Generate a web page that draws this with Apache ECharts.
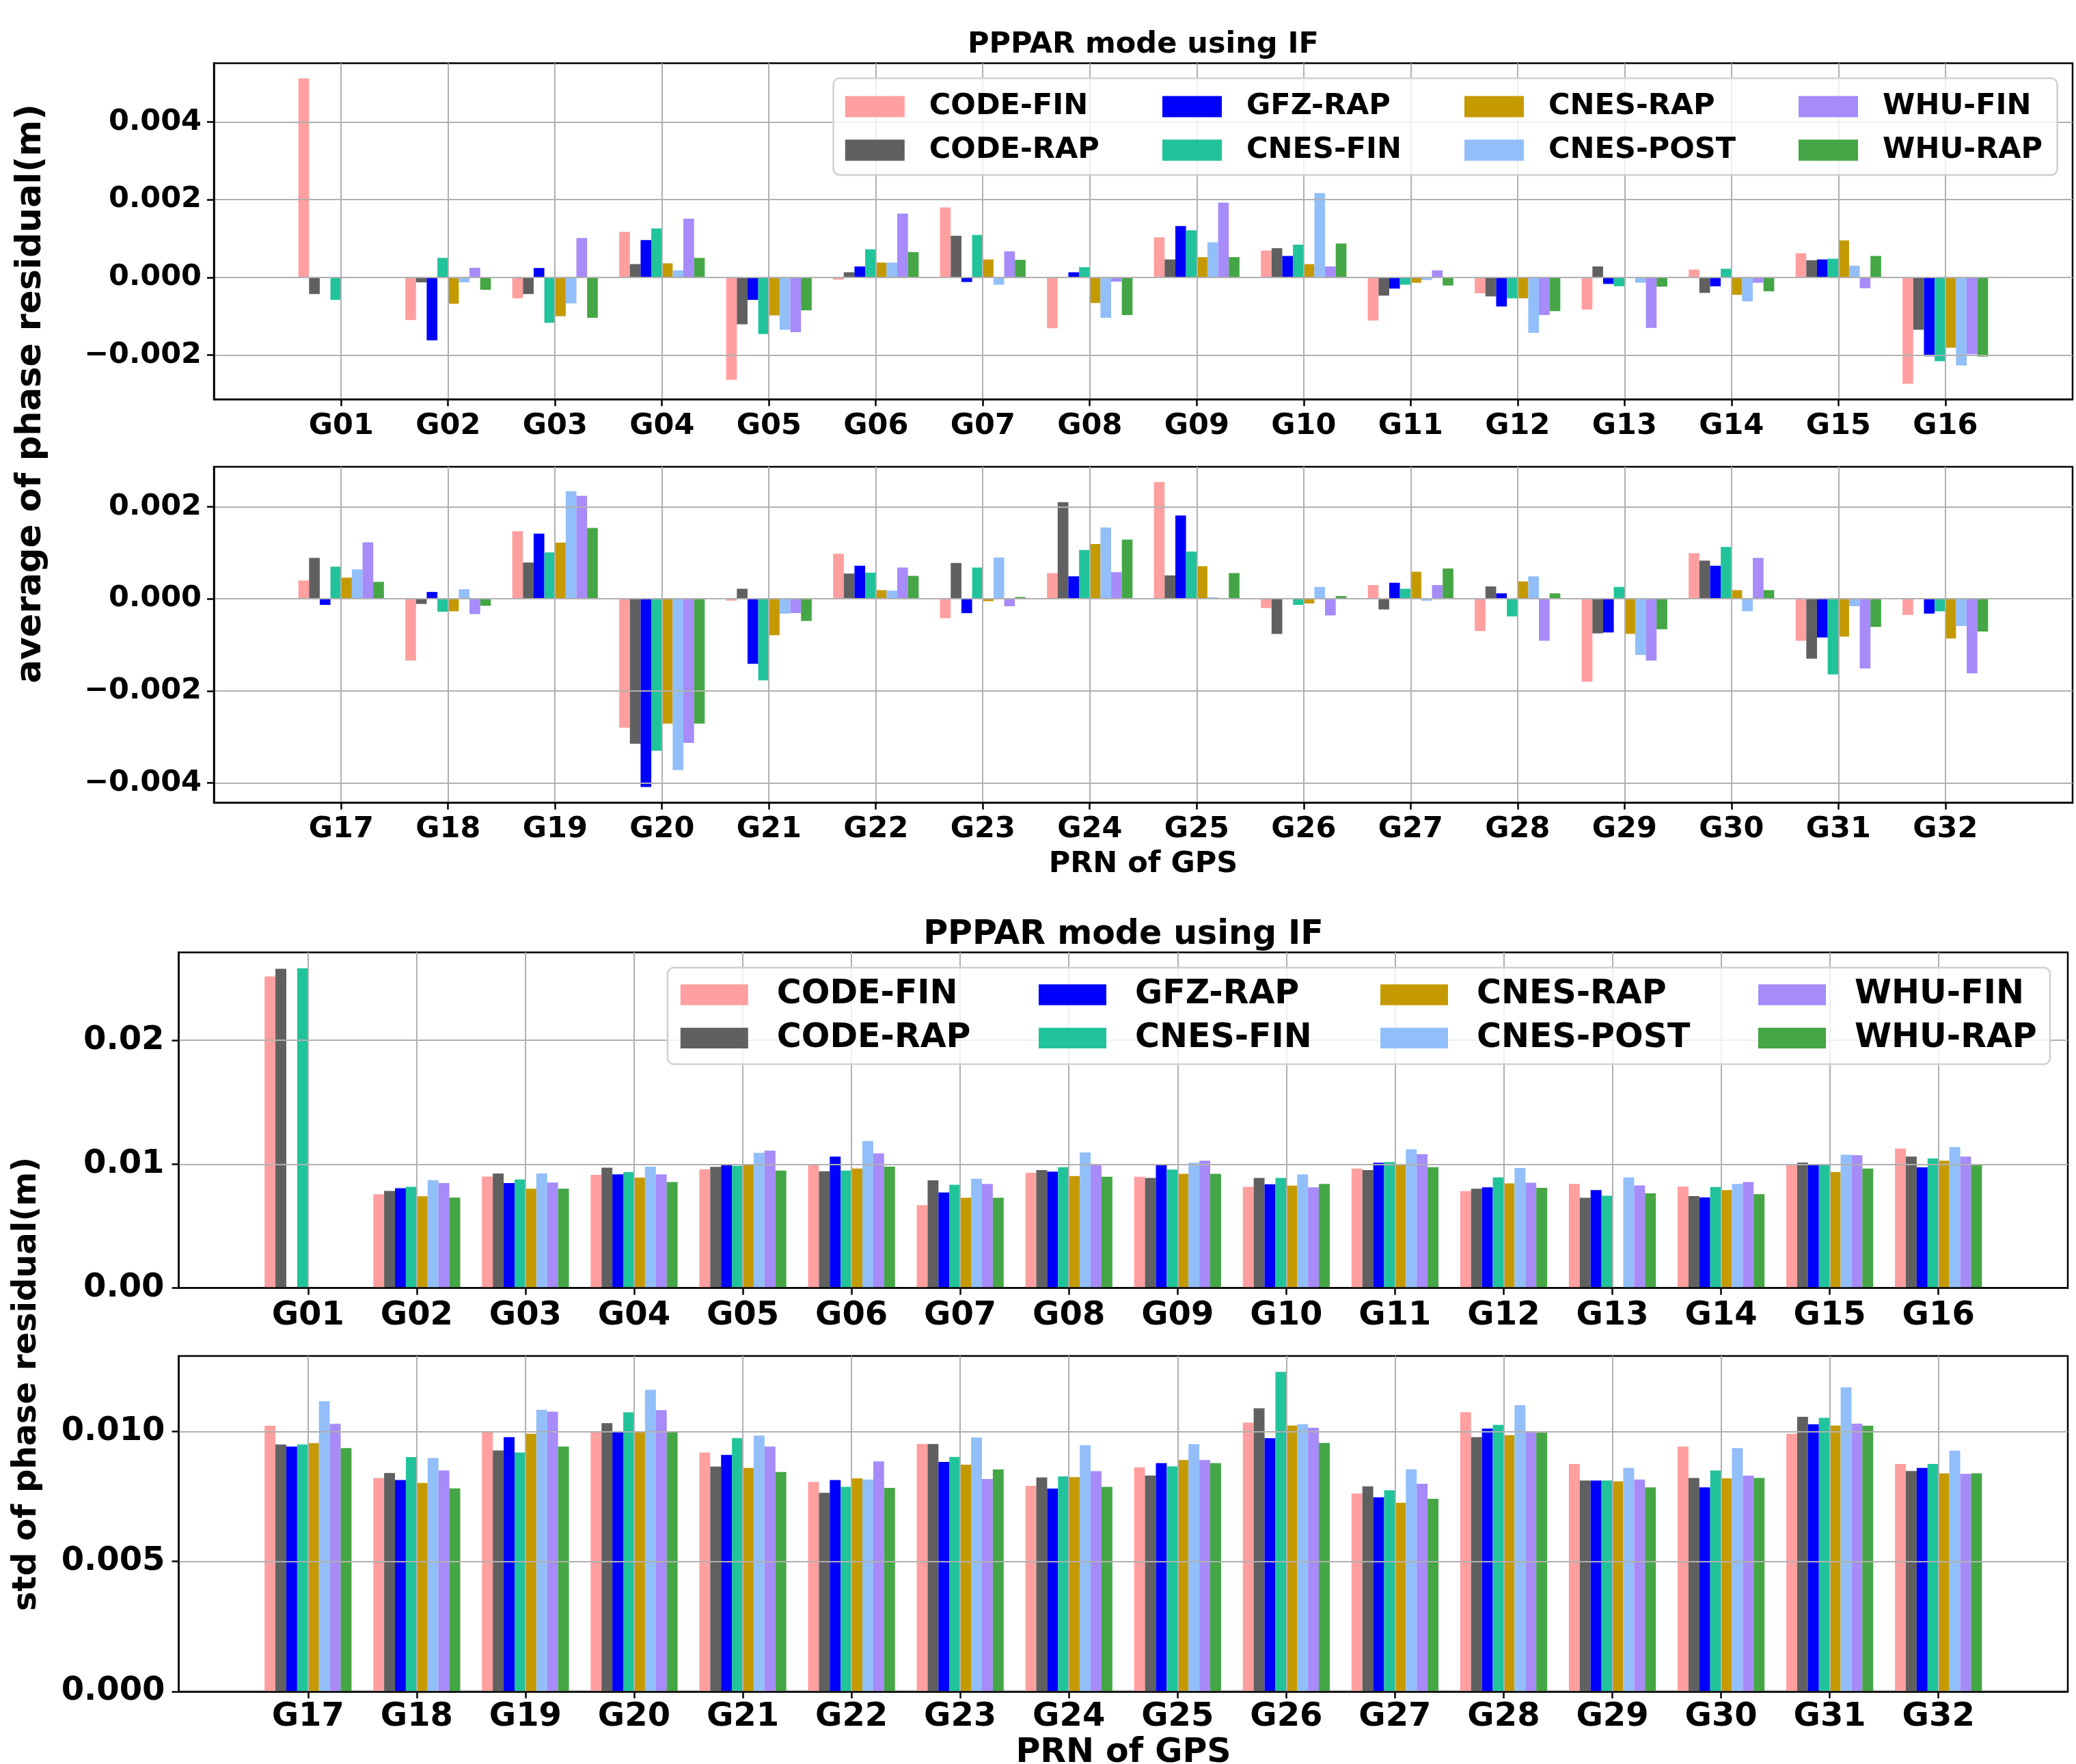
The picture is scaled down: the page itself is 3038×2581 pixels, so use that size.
<!DOCTYPE html>
<html>
<head>
<meta charset="utf-8">
<script src="https://cdn.jsdelivr.net/npm/echarts@6/dist/echarts.min.js"></script>
<style>
html,body{margin:0;padding:0;background:#fff;}
#chart{width:3038px;height:2581px;}
</style>
</head>
<body>
<div id="chart"></div>
<script>
// ---------------- DATA ----------------
const seriesNames = ['CODE-FIN','CODE-RAP','GFZ-RAP','CNES-FIN','CNES-RAP','CNES-POST','WHU-FIN','WHU-RAP'];
const prnA = ['G01','G02','G03','G04','G05','G06','G07','G08','G09','G10','G11','G12','G13','G14','G15','G16'];
const prnB = ['G17','G18','G19','G20','G21','G22','G23','G24','G25','G26','G27','G28','G29','G30','G31','G32'];

// average of phase residual (m), G01-G16
const avgA_codeFin  = [0.00512,-0.00110,-0.00054,0.00117,-0.00264,-0.00006,0.00180,-0.00131,0.00103,0.00069,-0.00111,-0.00041,-0.00083,0.00020,0.00062,-0.00274];
const avgA_codeRap  = [-0.00043,-0.00013,-0.00043,0.00034,-0.00121,0.00013,0.00107,null,0.00046,0.00075,-0.00047,-0.00049,0.00028,-0.00040,0.00044,-0.00135];
const avgA_gfzRap   = [null,-0.00162,0.00024,0.00096,-0.00058,0.00028,-0.00012,0.00013,0.00132,0.00055,-0.00029,-0.00075,-0.00017,-0.00023,0.00046,-0.00203];
const avgA_cnesFin  = [-0.00058,0.00050,-0.00117,0.00126,-0.00146,0.00072,0.00109,0.00026,0.00121,0.00084,-0.00019,-0.00054,-0.00023,0.00022,0.00048,-0.00216];
const avgA_cnesRap  = [null,-0.00068,-0.00100,0.00036,-0.00098,0.00038,0.00046,-0.00066,0.00052,0.00034,-0.00014,-0.00054,null,-0.00045,0.00095,-0.00181];
const avgA_cnesPost = [null,-0.00013,-0.00067,0.00018,-0.00135,0.00038,-0.00019,-0.00104,0.00090,0.00217,-0.00007,-0.00143,-0.00014,-0.00062,0.00030,-0.00227];
const avgA_whuFin   = [null,0.000245,0.00101,0.00151,-0.00141,0.00164,0.00067,-0.00011,0.00192,0.00028,0.00018,-0.00097,-0.00130,-0.00014,-0.00028,-0.00198];
const avgA_whuRap   = [null,-0.00032,-0.00104,0.00050,-0.00085,0.00065,0.00045,-0.00097,0.00052,0.00087,-0.00021,-0.00087,-0.00024,-0.00036,0.00055,-0.00204];

// average of phase residual (m), G17-G32
const avgB_codeFin  = [0.00040,-0.00134,0.00147,-0.00280,-0.00004,0.00098,-0.00042,0.00056,0.00254,-0.00020,0.00030,-0.00070,-0.00180,0.00099,-0.00091,-0.00035];
const avgB_codeRap  = [0.00089,-0.00011,0.00079,-0.00315,0.00022,0.00055,0.00078,0.00210,0.00051,-0.00076,-0.00023,0.00027,-0.00075,0.00083,-0.00130,null];
const avgB_gfzRap   = [-0.00013,0.00015,0.00142,-0.00409,-0.00141,0.00072,-0.00031,0.00049,0.00181,null,0.00035,0.00012,-0.00073,0.00072,-0.00084,-0.00032];
const avgB_cnesFin  = [0.00070,-0.00028,0.00101,-0.00330,-0.00177,0.00057,0.00068,0.00106,0.00103,-0.00013,0.00022,-0.00038,0.00026,0.00113,-0.00164,-0.00027];
const avgB_cnesRap  = [0.00046,-0.00027,0.00122,-0.00271,-0.00079,0.00019,-0.00005,0.00119,0.00071,-0.00010,0.00059,0.00038,-0.00076,0.00019,-0.00082,-0.00086];
const avgB_cnesPost = [0.00064,0.00021,0.00234,-0.00372,-0.00032,0.00018,0.00090,0.00155,0.000035,0.00026,-0.00004,0.00049,-0.00122,-0.00027,-0.00016,-0.00059];
const avgB_whuFin   = [0.00123,-0.00033,0.00224,-0.00313,-0.00031,0.00068,-0.00016,0.00058,-0.00001,-0.00036,0.00030,-0.00091,-0.00134,0.00089,-0.00151,-0.00162];
const avgB_whuRap   = [0.00037,-0.00015,0.00154,-0.00271,-0.00048,0.00050,0.00004,0.00129,0.00056,0.00006,0.00066,0.00012,-0.00066,0.00019,-0.00061,-0.00071];

// std of phase residual (m), G01-G16
const stdA_codeFin  = [0.02516,0.00756,0.00900,0.00913,0.00959,0.01000,0.00669,0.00930,0.00898,0.00817,0.00965,0.00782,0.00841,0.00819,0.00991,0.01126];
const stdA_codeRap  = [0.02577,0.00784,0.00924,0.00972,0.00978,0.00943,0.00869,0.00952,0.00889,0.00889,0.00952,0.00802,0.00728,0.00743,0.01013,0.01061];
const stdA_gfzRap   = [null,0.00806,0.00847,0.00917,0.00991,0.01061,0.00771,0.00939,0.00996,0.00837,0.01011,0.00813,0.00791,0.00732,0.00996,0.00974];
const stdA_cnesFin  = [0.02582,0.00817,0.00876,0.00935,0.00987,0.00948,0.00834,0.00976,0.00956,0.00889,0.01017,0.00893,0.00745,0.00815,0.00996,0.01046];
const stdA_cnesRap  = [null,0.00741,0.00802,0.00891,0.00991,0.00965,0.00728,0.00904,0.00922,0.00826,0.01000,0.00845,null,0.00791,0.00937,0.01028];
const stdA_cnesPost = [null,0.00871,0.00924,0.00980,0.01092,0.01187,0.00882,0.01094,0.01011,0.00917,0.01120,0.00969,0.00893,0.00841,0.01076,0.01139];
const stdA_whuFin   = [null,0.00847,0.00852,0.00917,0.01109,0.01087,0.00841,0.01000,0.01028,0.00813,0.01081,0.00850,0.00828,0.00856,0.01072,0.01061];
const stdA_whuRap   = [null,0.00730,0.00802,0.00856,0.00948,0.00980,0.00728,0.00898,0.00922,0.00841,0.00976,0.00808,0.00765,0.00758,0.00965,0.00996];

// std of phase residual (m), G17-G32
const stdB_codeFin  = [0.01022,0.00821,0.01000,0.01000,0.00919,0.00806,0.00952,0.00791,0.00862,0.01034,0.00761,0.01074,0.00875,0.00942,0.00991,0.00875];
const stdB_codeRap  = [0.00950,0.00840,0.00927,0.01032,0.00865,0.00764,0.00952,0.00823,0.00830,0.01089,0.00789,0.00978,0.00811,0.00821,0.01056,0.00848];
const stdB_gfzRap   = [0.00942,0.00813,0.00978,0.00998,0.00910,0.00813,0.00883,0.00780,0.00878,0.00974,0.00747,0.01011,0.00811,0.00785,0.01027,0.00860];
const stdB_cnesFin  = [0.00950,0.00901,0.00919,0.01073,0.00974,0.00787,0.00902,0.00827,0.00866,0.01229,0.00774,0.01025,0.00811,0.00850,0.01052,0.00875];
const stdB_cnesRap  = [0.00955,0.00802,0.00991,0.01000,0.00860,0.00820,0.00872,0.00824,0.00890,0.01023,0.00726,0.00986,0.00808,0.00820,0.01023,0.00839];
const stdB_cnesPost = [0.01116,0.00898,0.01083,0.01160,0.00984,0.00815,0.00977,0.00947,0.00951,0.01028,0.00854,0.01101,0.00860,0.00936,0.01169,0.00926];
const stdB_whuFin   = [0.01029,0.00850,0.01076,0.01082,0.00942,0.00885,0.00817,0.00847,0.00890,0.01014,0.00799,0.01000,0.00815,0.00830,0.01030,0.00837];
const stdB_whuRap   = [0.00936,0.00781,0.00942,0.00998,0.00844,0.00783,0.00854,0.00787,0.00878,0.00956,0.00741,0.00995,0.00785,0.00821,0.01022,0.00839];

const avgTicksA = [-0.002, 0, 0.002, 0.004];
const avgTicksB = [-0.004, -0.002, 0, 0.002];
const stdTicksA = [0, 0.01, 0.02];
const stdTicksB = [0, 0.005, 0.01];

// ---------------- STYLE / LAYOUT ----------------
const colors = ['#FF9F9F','#606060','#0000FF','#21C39A','#C59A00','#92BFF9','#A68BF9','#44A644'];
const FONT = 'DejaVu Sans';

const panels = [
  {cats: prnA, values: [avgA_codeFin,avgA_codeRap,avgA_gfzRap,avgA_cnesFin,avgA_cnesRap,avgA_cnesPost,avgA_whuFin,avgA_whuRap],
   ticks: avgTicksA, yMin: -0.00314, yMax: 0.00551, dec: 3,
   grid: {left: 313, top: 92.5, width: 2720, height: 491.8}, font: 43, xMargin: 18, yMargin: 18},
  {cats: prnB, values: [avgB_codeFin,avgB_codeRap,avgB_gfzRap,avgB_cnesFin,avgB_cnesRap,avgB_cnesPost,avgB_whuFin,avgB_whuRap],
   ticks: avgTicksB, yMin: -0.00443, yMax: 0.00287, dec: 3,
   grid: {left: 313, top: 683, width: 2720, height: 491.5}, font: 43, xMargin: 18, yMargin: 18},
  {cats: prnA, values: [stdA_codeFin,stdA_codeRap,stdA_gfzRap,stdA_cnesFin,stdA_cnesRap,stdA_cnesPost,stdA_whuFin,stdA_whuRap],
   ticks: stdTicksA, yMin: 0, yMax: 0.0271, dec: 2,
   grid: {left: 261.5, top: 1393.5, width: 2764.5, height: 491}, font: 48, xMargin: 17, yMargin: 21},
  {cats: prnB, values: [stdB_codeFin,stdB_codeRap,stdB_gfzRap,stdB_cnesFin,stdB_cnesRap,stdB_cnesPost,stdB_whuFin,stdB_whuRap],
   ticks: stdTicksB, yMin: 0, yMax: 0.0129, dec: 3,
   grid: {left: 261.5, top: 1984, width: 2764.5, height: 491}, font: 48, xMargin: 14, yMargin: 20}
];

function fmt(dec) {
  return v => (v < -1e-12 ? '\u2212' : '') + Math.abs(v).toFixed(dec);
}

const grids = [], xAxes = [], yAxes = [], series = [];
panels.forEach((p, pi) => {
  const n = p.cats.length;
  const idx = p.cats.map((c, i) => i);
  grids.push(Object.assign({show: true, borderColor: '#000', borderWidth: 2.5, backgroundColor: 'rgba(0,0,0,0)',
    containLabel: false, outerBoundsMode: 'none'}, p.grid));
  xAxes.push({
    gridIndex: pi, type: 'value', min: -1.19, max: n - 1 + 1.19, z: 3,
    axisLine: {show: true, onZero: false, lineStyle: {color: '#000', width: 2.5}},
    axisTick: {show: true, customValues: idx, length: 10, lineStyle: {color: '#000', width: 2.5}},
    axisLabel: {show: true, customValues: idx, margin: p.xMargin, color: '#000', fontFamily: FONT, fontWeight: 'bold', fontSize: p.font,
      formatter: v => p.cats[Math.round(v)] || ''},
    splitLine: {show: true, lineStyle: {color: '#b0b0b0', width: 2}}
  });
  yAxes.push({
    gridIndex: pi, type: 'value', min: p.yMin, max: p.yMax, z: 3,
    axisLine: {show: true, onZero: false, lineStyle: {color: '#000', width: 2.5}},
    axisTick: {show: true, customValues: p.ticks, length: 10, lineStyle: {color: '#000', width: 2.5}},
    axisLabel: {show: true, customValues: p.ticks, margin: p.yMargin, color: '#000', fontFamily: FONT, fontWeight: 'bold', fontSize: p.font,
      formatter: fmt(p.dec)},
    splitLine: {show: true, lineStyle: {color: '#b0b0b0', width: 2}}
  });
  p.values.forEach((arr, si) => {
    series.push({
      type: 'bar', name: seriesNames[si], xAxisIndex: pi, yAxisIndex: pi,
      data: arr.map((v, i) => [i, v]),
      barGap: '0%', barCategoryGap: '20%', z: 2, silent: true,
      itemStyle: {color: colors[si]}
    });
  });
});

function makeLegends(cfg) {
  return cfg.lefts.map((left, c) => ({
    data: [seriesNames[2 * c], seriesNames[2 * c + 1]],
    orient: 'vertical', left: left, top: cfg.top, padding: 0, itemGap: cfg.gap,
    itemWidth: cfg.itemW, itemHeight: cfg.itemH, icon: 'rect', selectedMode: false, z: 6,
    itemStyle: {borderWidth: 0},
    textStyle: {fontFamily: FONT, fontWeight: 'bold', fontSize: cfg.font, color: '#000',
      lineHeight: cfg.itemH, padding: [0, 0, 0, cfg.textPad]}
  }));
}
const legends = [].concat(
  makeLegends({lefts: [1236.8, 1701, 2143, 2632], top: 134.5, gap: 20.7, itemW: 87, itemH: 31, font: 43, textPad: 31}),
  makeLegends({lefts: [995.8, 1520, 2020, 2573], top: 1431, gap: 14.4, itemW: 99, itemH: 30.4, font: 49, textPad: 37})
);

function txt(text, x, y, size, rot) {
  return {type: 'text', x: x, y: y, rotation: rot || 0, z: 5, silent: true,
    style: {text: text, font: 'bold ' + size + 'px "' + FONT + '"', fill: '#000', align: 'center', verticalAlign: 'middle'}};
}
const graphics = [
  {type: 'rect', shape: {x: 1219.6, y: 114.6, width: 1791, height: 141.4, r: 9}, z: 4, silent: true,
   style: {fill: 'rgba(255,255,255,0.8)', stroke: '#d0d0d0', lineWidth: 2.5}},
  {type: 'rect', shape: {x: 977, y: 1415.7, width: 2023, height: 141.3, r: 9}, z: 4, silent: true,
   style: {fill: 'rgba(255,255,255,0.8)', stroke: '#d0d0d0', lineWidth: 2.5}},
  txt('PPPAR mode using IF', 1673, 66, 43),
  txt('PPPAR mode using IF', 1644, 1368, 49),
  txt('PRN of GPS', 1673, 1265, 43),
  txt('PRN of GPS', 1644, 2565, 49),
  txt('average of phase residual(m)', 46, 576, 51, Math.PI / 2),
  txt('std of phase residual(m)', 40, 2025, 48, Math.PI / 2)
];

const chart = echarts.init(document.getElementById('chart'), null, {renderer: 'canvas'});
chart.setOption({
  animation: false,
  backgroundColor: '#fff',
  grid: grids,
  xAxis: xAxes,
  yAxis: yAxes,
  legend: legends,
  graphic: {elements: graphics},
  series: series
});
</script>
</body>
</html>
